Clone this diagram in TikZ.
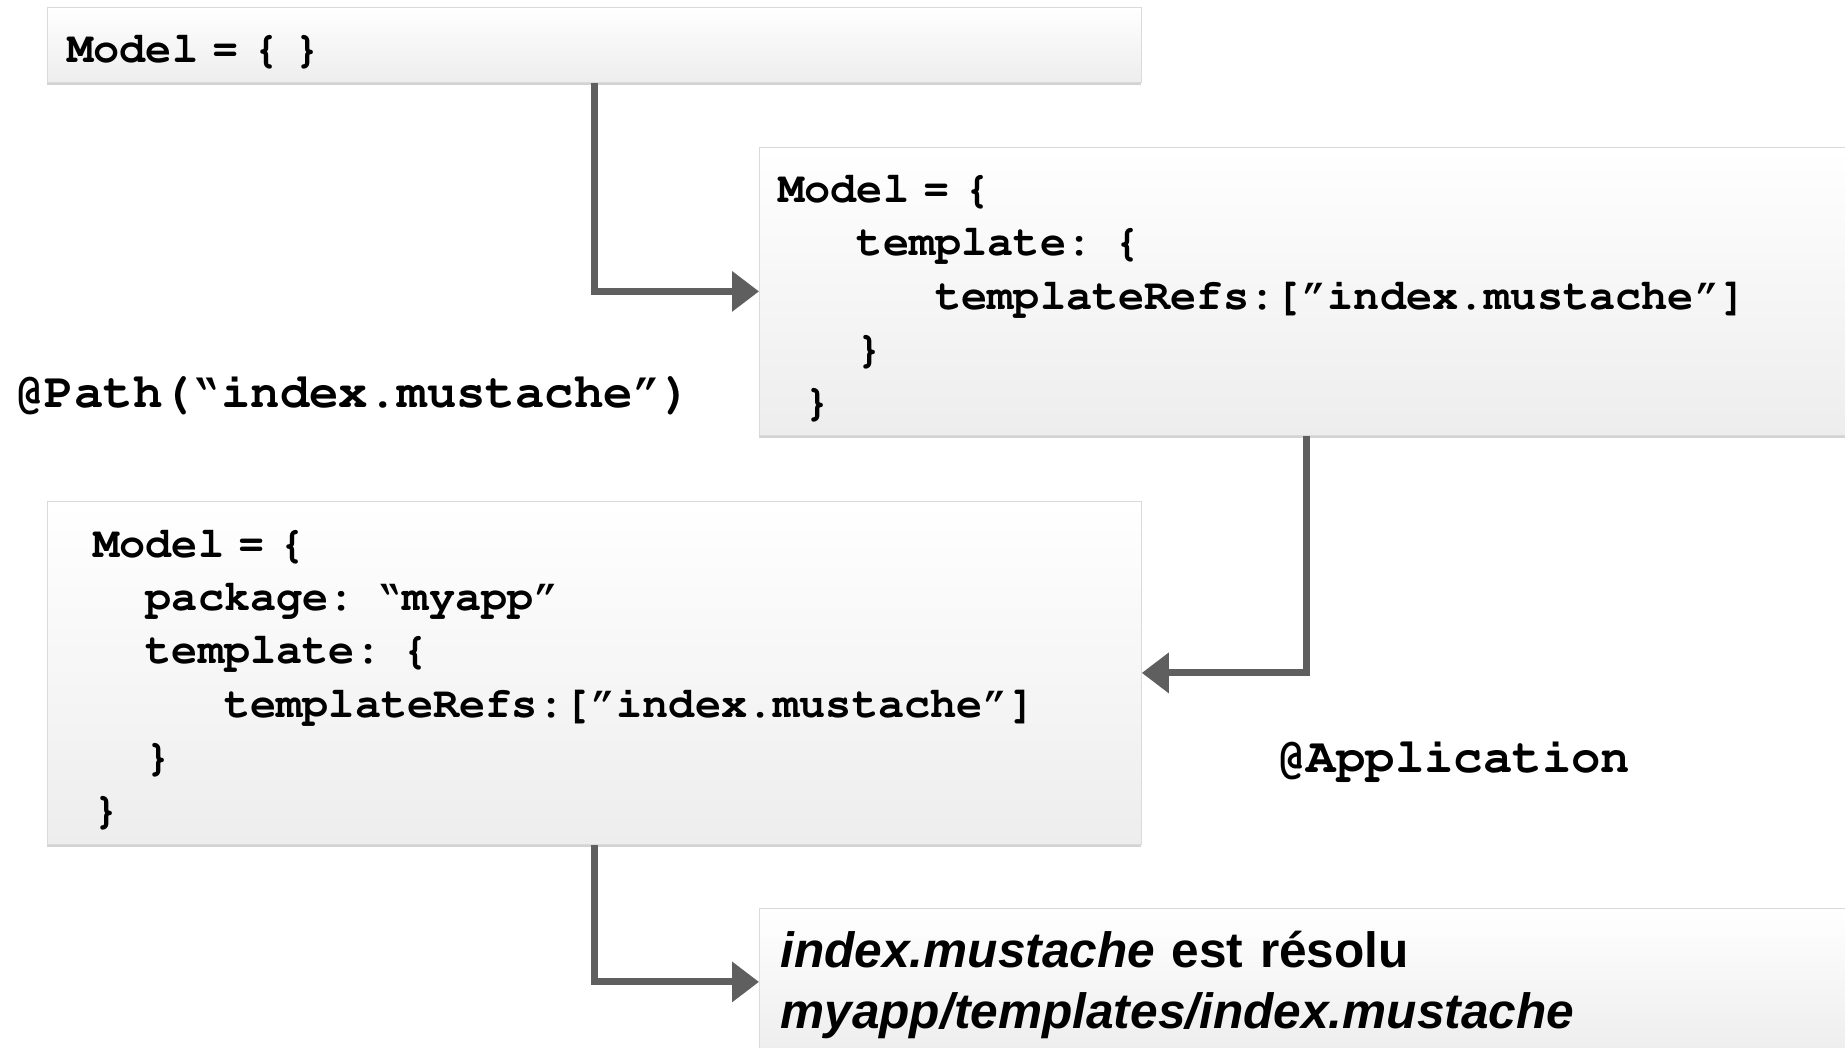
\documentclass[tikz,border=0pt]{standalone}
\usepackage[T1]{fontenc}
\usepackage{fontspec}
\setmainfont{Liberation Sans}
\setsansfont{Liberation Sans}
\usetikzlibrary{arrows.meta,shadows}
\newcommand{\cour}{\fontencoding{T1}\fontfamily{pcr}\bfseries}
\newcommand{\oq}{\textquotedblleft}
\newcommand{\cq}{\textquotedblright}
\definecolor{mgray}{RGB}{95,95,95}
\definecolor{mline}{RGB}{218,218,218}
\tikzset{
  mbox/.style={rectangle, draw=mline, top color=white, bottom color=black!7, anchor=north west,
               align=left, inner ysep=0pt, minimum width=547pt,
               execute at begin node={\rule{0pt}{20pt}},
               font=\cour\fontsize{21.8pt}{26.6pt}\selectfont,
               drop shadow={shadow xshift=0pt, shadow yshift=-1.5pt, opacity=.35}},
  marr/.style={-{Triangle[length=13.5pt,width=19.5pt]}, line width=3.5pt, mgray},
  mlbl/.style={anchor=west, inner sep=0pt, font=\cour\fontsize{24.5pt}{29pt}\selectfont},
}

\begin{document}
\begin{tikzpicture}[x=0.5pt,y=-0.5pt]
    \useasboundingbox (0,0) rectangle (1845,1048);
        % model boxes
        \node[mbox, minimum height=37.5pt, inner xsep=10pt, text width=527pt](m0) at (47,7){Model = \{ \}};
        \node[mbox, minimum height=144pt, inner xsep=9.5pt, text width=528pt](m1) at (759,147){Model = \{\\
            \hspace*{1.8em}template: \{\\
            \hspace*{3.6em}templateRefs:[\cq index.mustache\cq]\\
            \hspace*{1.8em}\}\\
            \hspace*{0.6em}\}};
        \node[mbox, minimum height=171.5pt, inner xsep=23pt, text width=501pt](m2) at (47,501){Model = \{\\
            \hspace*{1.2em}package: \oq myapp\cq\\
            \hspace*{1.2em}template: \{\\
            \hspace*{3em}templateRefs:[\cq index.mustache\cq]\\
            \hspace*{1.2em}\}\\
            \}};
        \node[mbox, minimum height=73.5pt, inner xsep=10.5pt, text width=526pt,
              execute at begin node={\rule{0pt}{21pt}},
              font=\sffamily\bfseries\fontsize{24.8pt}{30.5pt}\selectfont](res) at (759,908){\textit{index.mustache} est résolu\\
            \textit{myapp/templates/index.mustache}};
        % annotations
        \node[mlbl](pth) at (15,394){@Path(\oq index.mustache\cq)};
        \node[mlbl](app) at (1277,759){@Application};
        \draw[marr](m0.south)|-(m1.west);\draw[marr](m1.south)|-(m2.east);\draw[marr](m2.south)|-(res.west);
    \end{tikzpicture}
\end{document}
